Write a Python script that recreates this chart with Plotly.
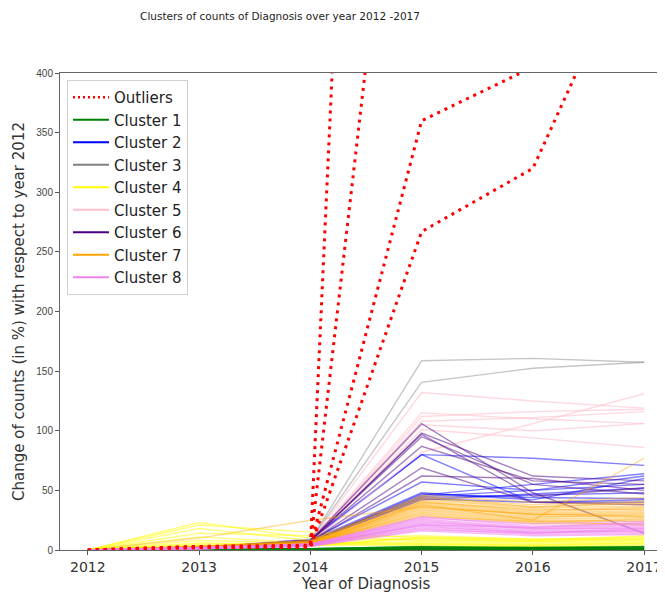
import plotly.graph_objects as go

years = [2012, 2013, 2014, 2015, 2016, 2017]
year_labels = ["2012", "2013", "2014", "2015", "2016", "2017"]
y_ticks = [0, 50, 100, 150, 200, 250, 300, 350, 400]

outliers = [
    [0, 2, 3, 2030, 2500, 2800],
    [0, 3, 4, 810, 1100, 1300],
    [0, 3, 3, 360, 405, 700],
    [0, 2, 2, 267, 320, 525],
]

cluster_1 = [
    [0, 1, 1, 3, 2.5, 3],
    [0, 0.5, 1, 2.5, 2, 2.5],
    [0, 1, 1, 2, 2, 2],
    [0, 0.5, 0.5, 1.5, 1.5, 1.5],
    [0, 0.5, 0.5, 1, 1, 1],
    [0, 0, 0.5, 0.5, 0.5, 0.5],
    [0, 0, 0, 0.3, 0.3, 0.3],
]

cluster_2 = [
    [0, 2, 9, 80, 77, 71],
    [0, 2, 8, 80, 40, 42],
    [0, 2, 8, 57, 50, 62],
    [0, 2, 8, 48, 42, 60],
    [0, 2, 7, 46, 55, 64],
    [0, 2, 7, 45, 50, 55],
    [0, 2, 7, 47, 44, 43],
    [0, 2, 7, 44, 46, 48],
    [0, 2, 7, 42, 47, 52],
    [0, 2, 7, 43, 40, 40],
]

cluster_3 = [
    [0, 2, 8, 158.7, 160.7, 157.4],
    [0, 2, 8, 140.6, 152.4, 157.4],
]

cluster_4 = [
    [0, 23, 10, 12, 9, 11],
    [0, 21, 15, 10, 8, 10],
    [0, 18, 8, 9, 7, 9],
    [0, 14, 12, 8, 7, 8],
    [0, 11, 6, 7, 6, 7],
    [0, 8, 6, 6, 5, 6],
    [0, 6, 5, 5, 4, 6],
    [0, 5, 5, 5, 4, 5],
    [0, 4, 4, 4, 3, 4],
    [0, 3, 4, 10, 8, 12],
    [0, 3, 3, 11, 9, 9],
]

cluster_5 = [
    [0, 2, 7, 132, 125, 119],
    [0, 2, 7, 115, 110, 106],
    [0, 2, 7, 108, 111, 116],
    [0, 2, 6, 82, 106, 131],
    [0, 2, 6, 101, 94, 86],
    [0, 2, 7, 105, 100, 106],
    [0, 2, 6, 112, 116, 118],
]

cluster_6 = [
    [0, 2, 8, 106, 48, 14],
    [0, 2, 8, 97, 45, 52],
    [0, 2, 8, 95, 55, 47],
    [0, 2, 8, 87, 58, 55],
    [0, 2, 7, 69, 40, 38],
    [0, 2, 7, 62, 60, 50],
    [0, 2, 7, 98, 62, 58],
]

cluster_7 = [
    [0, 3, 8, 46, 40, 44],
    [0, 3, 7, 44, 38, 41],
    [0, 2, 8, 43, 36, 39],
    [0, 3, 7, 42, 35, 37],
    [0, 2, 6, 41, 33, 36],
    [0, 2, 7, 40, 34, 34],
    [0, 3, 6, 39, 31, 33],
    [0, 2, 6, 38, 30, 32],
    [0, 2, 5, 37, 29, 31],
    [0, 3, 6, 36, 30, 29],
    [0, 2, 5, 35, 28, 28],
    [0, 2, 6, 34, 27, 30],
    [0, 2, 5, 33, 26, 27],
    [0, 2, 5, 32, 25, 25],
    [0, 2, 5, 31, 24, 24],
    [0, 3, 6, 30, 23, 26],
    [0, 2, 5, 29, 22, 22],
    [0, 2, 5, 28, 24, 21],
    [0, 10, 25, 36, 30, 28],
    [0, 2, 6, 38, 25, 77],
    [0, 2, 6, 45, 36, 40],
    [0, 2, 5, 40, 32, 35],
]

cluster_8 = [
    [0, 2, 5, 28, 20, 22],
    [0, 2, 5, 26, 19, 21],
    [0, 2, 4, 25, 18, 20],
    [0, 2, 5, 24, 17, 19],
    [0, 2, 4, 23, 18, 18],
    [0, 1, 4, 22, 16, 17],
    [0, 2, 4, 21, 15, 16],
    [0, 1, 4, 20, 14, 18],
    [0, 1, 3, 19, 15, 15],
    [0, 2, 4, 18, 13, 14],
    [0, 1, 3, 17, 14, 16],
    [0, 1, 3, 16, 12, 13],
    [0, 2, 4, 27, 22, 24],
    [0, 1, 4, 21, 19, 23],
]

cluster_names = ["Cluster 1", "Cluster 2", "Cluster 3", "Cluster 4",
                 "Cluster 5", "Cluster 6", "Cluster 7", "Cluster 8"]
cluster_data = [cluster_1, cluster_2, cluster_3, cluster_4,
                cluster_5, cluster_6, cluster_7, cluster_8]
cluster_rgb = [(0, 128, 0), (0, 0, 255), (128, 128, 128), (255, 255, 0),
               (255, 192, 203), (75, 0, 130), (255, 165, 0), (238, 130, 238)]
cluster_alpha = [0.8, 0.5, 0.45, 0.5, 0.6, 0.5, 0.4, 0.55]

# page body has an 8px margin: figure coordinates = screen coordinates - 8
W, H = 665, 587
L, T, B, R = 52, 65, 45, 1
PW, PH = W - L - R, H - T - B

fig = go.Figure()

# legend entries (no data)
fig.add_trace(go.Scatter(x=[None], y=[None], mode="lines", name="Outliers",
                         line=dict(color="red", width=2.5, dash="2px,3px")))
for name, rgb in zip(cluster_names, cluster_rgb):
    fig.add_trace(go.Scatter(x=[None], y=[None], mode="lines", name=name,
                             line=dict(color="rgb(%d,%d,%d)" % rgb, width=2)))

for data, rgb, a in zip(cluster_data, cluster_rgb, cluster_alpha):
    for row in data:
        fig.add_trace(go.Scatter(x=years, y=row, mode="lines", showlegend=False,
                                 hoverinfo="skip",
                                 line=dict(color="rgba(%d,%d,%d,%s)" % (rgb + (a,)), width=1.4)))

for row in outliers:
    fig.add_trace(go.Scatter(x=years, y=row, mode="lines", showlegend=False,
                             hoverinfo="skip",
                             line=dict(color="red", width=3, dash="3px,5px")))

fig.update_layout(
    width=W, height=H,
    margin=dict(l=L, r=R, t=T, b=B, autoexpand=False),
    paper_bgcolor="white", plot_bgcolor="white",
    font=dict(family="DejaVu Sans", color="#333"),
    title=dict(text="Clusters of counts of Diagnosis over year 2012 -2017",
               x=272 / W, xanchor="center", xref="container",
               y=1 - 8 / H, yref="container", yanchor="middle",
               font=dict(family="DejaVu Sans", size=10.5, color="#222")),
    showlegend=True,
    legend=dict(x=7 / PW, y=1 - 7 / PH, xanchor="left", yanchor="top",
                bgcolor="rgba(255,255,255,0.9)", bordercolor="#d0d0d0", borderwidth=1,
                font=dict(family="DejaVu Sans", size=15, color="#222"),
                itemwidth=36, tracegroupgap=0),
    xaxis=dict(range=[2011.75, 2017.25], tickvals=years, ticktext=year_labels,
               ticks="outside", ticklen=4, tickcolor="#555", automargin=False,
               showline=True, linecolor="#666", linewidth=1, mirror=True,
               showgrid=False, zeroline=False,
               tickfont=dict(family="DejaVu Sans", size=14, color="#333"),
               title=dict(text="Year of Diagnosis", standoff=2,
                          font=dict(family="DejaVu Sans", size=15, color="#333"))),
    yaxis=dict(range=[0, 400], tickvals=y_ticks, automargin=False,
               ticks="outside", ticklen=4, tickcolor="#555",
               showline=True, linecolor="#666", linewidth=1,
               showgrid=False, zeroline=False,
               tickfont=dict(family="Liberation Sans", size=10, color="#444"),
               title=dict(text="Change of counts (in %) with respect to year 2012", standoff=8,
                          font=dict(family="DejaVu Sans", size=15, color="#333"))),
)

fig.write_html("out.html")
